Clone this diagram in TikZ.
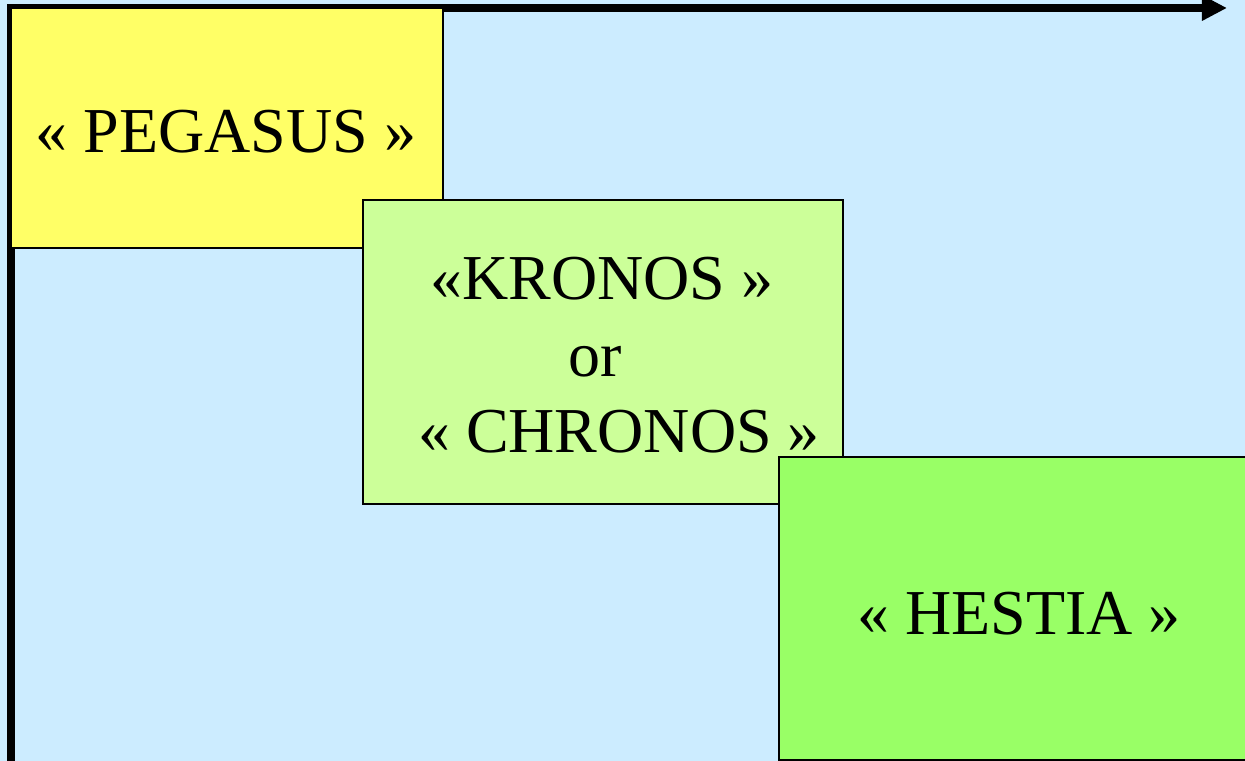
\documentclass[tikz,border=0pt]{standalone}
\usepackage{fontspec}
\setmainfont{Liberation Serif}
\usetikzlibrary{arrows.meta}
\definecolor{bgblue}{HTML}{CCECFF}
\definecolor{boxyellow}{HTML}{FFFF66}
\definecolor{boxlight}{HTML}{CCFF99}
\definecolor{boxgreen}{HTML}{99FF66}
\tikzset{
  era/.style={draw=black, line width=0.5pt},
  lbl/.style={anchor=base, inner sep=0pt, font=\fontsize{18.2}{22}\selectfont},
  axis/.style={line width=2.3pt, line join=miter, -{Triangle[length=0.25cm,width=0.24cm]}}
}
\begin{document}
\begin{tikzpicture}[x=0.01cm,y=-0.01cm]
\useasboundingbox (0,0) rectangle (1245,761);
\fill[bgblue] (0,0) rectangle (1245,761);
\coordinate (o) at (11,8);
\coordinate (ybot) at (11,775);
\coordinate (xend) at (1227,8);
\draw[axis] (ybot) -- (o) -- (xend);
\filldraw[era, fill=boxyellow] (11,8.5) rectangle (443,248);
\filldraw[era, fill=boxlight] (363,200) rectangle (843,504);
\filldraw[era, fill=boxgreen] (779,457) rectangle (1260,760);
\node[lbl] (peg) at (226,153) {« PEGASUS »};
\node[lbl] (kro) at (602,300) {«KRONOS »};
\node[lbl] (or) at (595,377) {or};
\node[lbl] (chr) at (619,453) {« CHRONOS »};
\node[lbl] (hes) at (1019,635) {« HESTIA »};
\end{tikzpicture}
\end{document}
